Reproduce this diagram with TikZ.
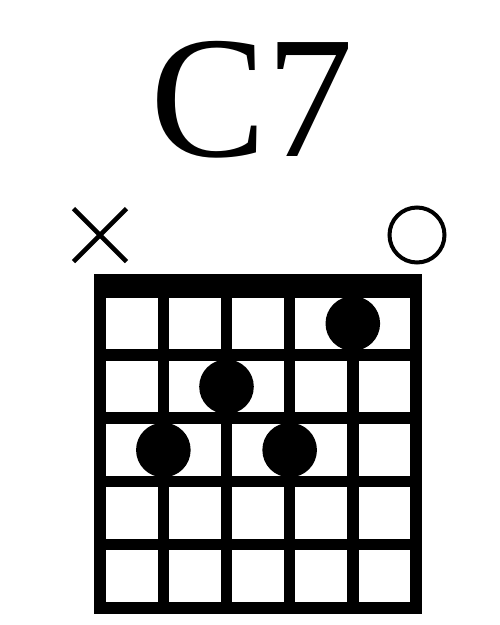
\documentclass[tikz,border=0pt]{standalone}
\usepackage{fontspec}
\setmainfont{Liberation Serif}
\usetikzlibrary{calc}
\begin{document}
\begin{tikzpicture}[x=1pt,y=-1pt,
  gridline/.style={line width=11.5pt,line cap=rect},
  fingerdot/.style={circle,fill=black,inner sep=0pt,minimum size=54.6pt},
  mutemark/.style={line width=4.6pt},
  openmark/.style={circle,draw=black,line width=4pt,inner sep=0pt,minimum size=55pt}]
\useasboundingbox (0,0) rectangle (500,625);
% title
\node[anchor=base,inner sep=0pt] (title) at (252,156.5) {\fontsize{174}{174}\selectfont C7};
% strings
\foreach \i in {0,...,5} {
  \coordinate (s\i top) at ({100.2+63.15*\i},291.8);
  \coordinate (s\i bot) at ({100.2+63.15*\i},607.8);
  \draw[line width=11.5pt] (s\i top) -- (s\i bot);
}
% frets
\foreach \j in {1,...,5} {
  \coordinate (f\j l) at (100.2,{291.8+63.2*\j});
  \coordinate (f\j r) at (415.95,{291.8+63.2*\j});
  \draw[gridline] (f\j l) -- (f\j r);
}
% nut
\fill (94.4,274) rectangle (421.7,297.7);
% markers
\coordinate (mx) at (100,235);
\draw[mutemark] ($(mx)+(-26.5,-26.5)$) -- ($(mx)+(26.5,26.5)$);
\draw[mutemark] ($(mx)+(-26.5,26.5)$) -- ($(mx)+(26.5,-26.5)$);
\node[openmark] (open) at (417,235) {};
% finger dots
\node[fingerdot] (d2) at (163.35,450) {};
\node[fingerdot] (d3) at (226.5,386.7) {};
\node[fingerdot] (d4) at (289.65,450) {};
\node[fingerdot] (d5) at (352.8,323.5) {};
\end{tikzpicture}
\end{document}
